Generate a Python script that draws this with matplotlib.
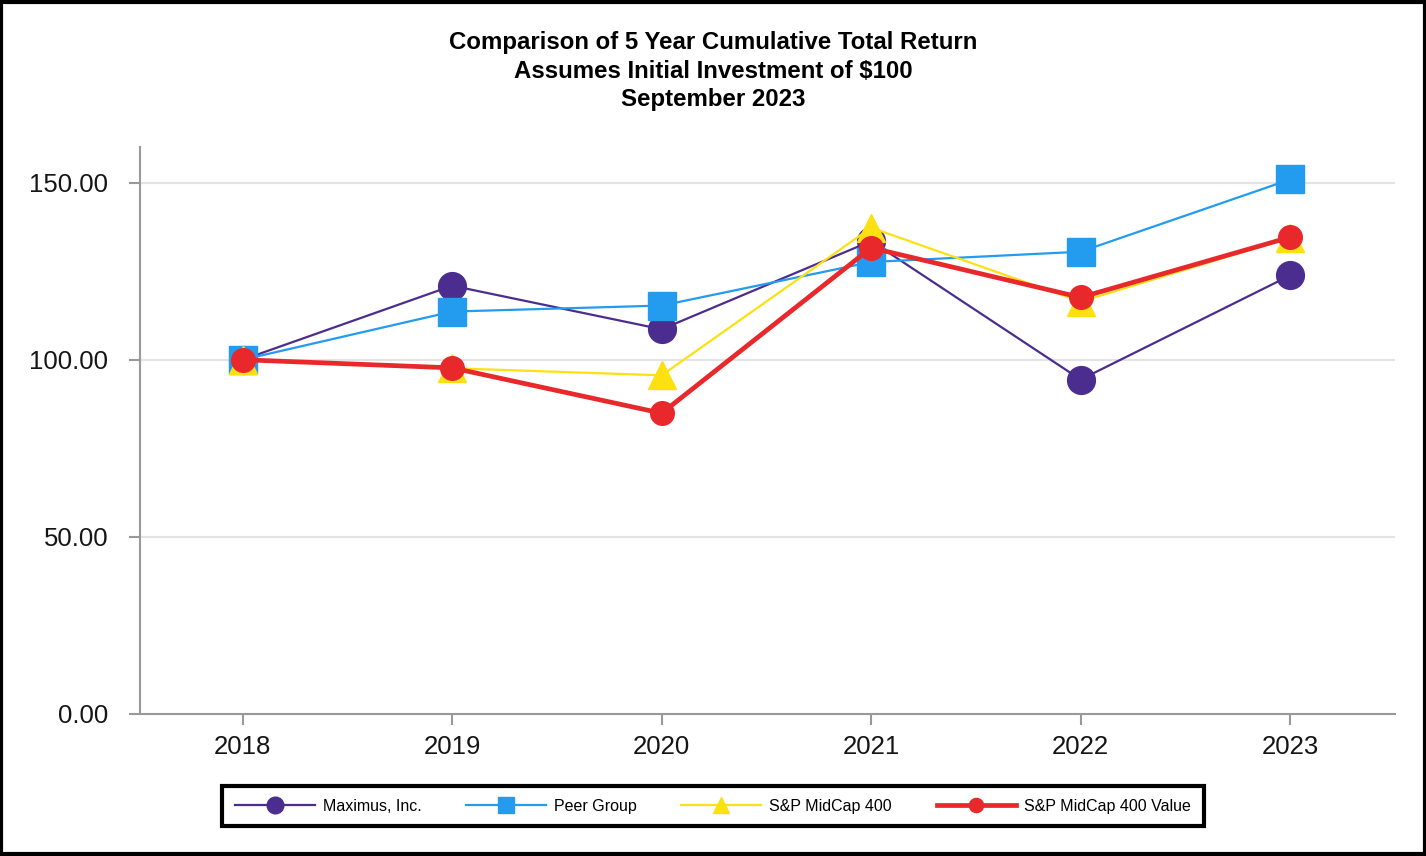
import matplotlib.pyplot as plt
from matplotlib.patches import Rectangle

plt.rcParams['font.family'] = ['Liberation Sans', 'DejaVu Sans']

# Data
years = ['2018', '2019', '2020', '2021', '2022', '2023']
maximus = [100.0, 120.9, 108.6, 133.5, 94.4, 123.8]
peer_group = [100.0, 113.6, 115.3, 127.6, 130.5, 150.9]
midcap_400 = [100.0, 97.6, 95.6, 137.3, 116.4, 134.5]
midcap_400_value = [100.0, 97.7, 84.9, 131.6, 117.6, 134.6]

x = list(range(len(years)))

fig = plt.figure(figsize=(14.26, 8.56), dpi=100)
ax = fig.add_axes([0.0982, 0.166, 0.8800, 0.662])

ax.plot(x, maximus, color='#4b2d8f', lw=1.6, marker='o', ms=20, label='Maximus, Inc.', zorder=3)
ax.plot(x, peer_group, color='#239bef', lw=1.6, marker='s', ms=20, label='Peer Group', zorder=4)
ax.plot(x, midcap_400, color='#fde011', lw=1.6, marker='^', ms=20, label='S&P MidCap 400', zorder=5)
ax.plot(x, midcap_400_value, color='#e8282a', lw=3.4, marker='o', ms=17, label='S&P MidCap 400 Value', zorder=6)

ax.set_xlim(-0.49, 5.5)
ax.set_ylim(0, 160)
ax.set_yticks([0, 50, 100, 150])
ax.set_yticklabels([f'{v:.2f}' for v in [0, 50, 100, 150]])
ax.set_xticks(x)
ax.set_xticklabels(years)
ax.tick_params(axis='both', colors='#999999', labelcolor='#151515', labelsize=18.5,
               length=8, width=1.5, direction='out')
ax.tick_params(axis='y', pad=15)
ax.tick_params(axis='x', pad=7)

for y in [50, 100, 150]:
    ax.axhline(y, color='#e3e3e3', lw=1.5, zorder=1)

for side in ['top', 'right']:
    ax.spines[side].set_visible(False)
for side in ['left', 'bottom']:
    ax.spines[side].set_color('#999999')
    ax.spines[side].set_linewidth(1.5)

fig.text(0.5, 0.917, 'Comparison of 5 Year Cumulative Total Return\nAssumes Initial Investment of $100\nSeptember 2023',
         ha='center', va='center', fontsize=17.3, fontweight='bold', linespacing=1.33)

leg = fig.legend(loc='center', bbox_to_anchor=(0.5, 0.0584), ncol=4, fontsize=11.5,
                 frameon=True, fancybox=False, edgecolor='black', framealpha=1,
                 markerscale=0.6, handlelength=5, columnspacing=2.8,
                 borderpad=0.8, handletextpad=0.5)
leg.get_frame().set_linewidth(3)

fig.patches.append(Rectangle((0.001, 0.002), 0.998, 0.996, transform=fig.transFigure,
                             fill=False, edgecolor='black', lw=3))

fig.savefig('out.png', dpi=100)
